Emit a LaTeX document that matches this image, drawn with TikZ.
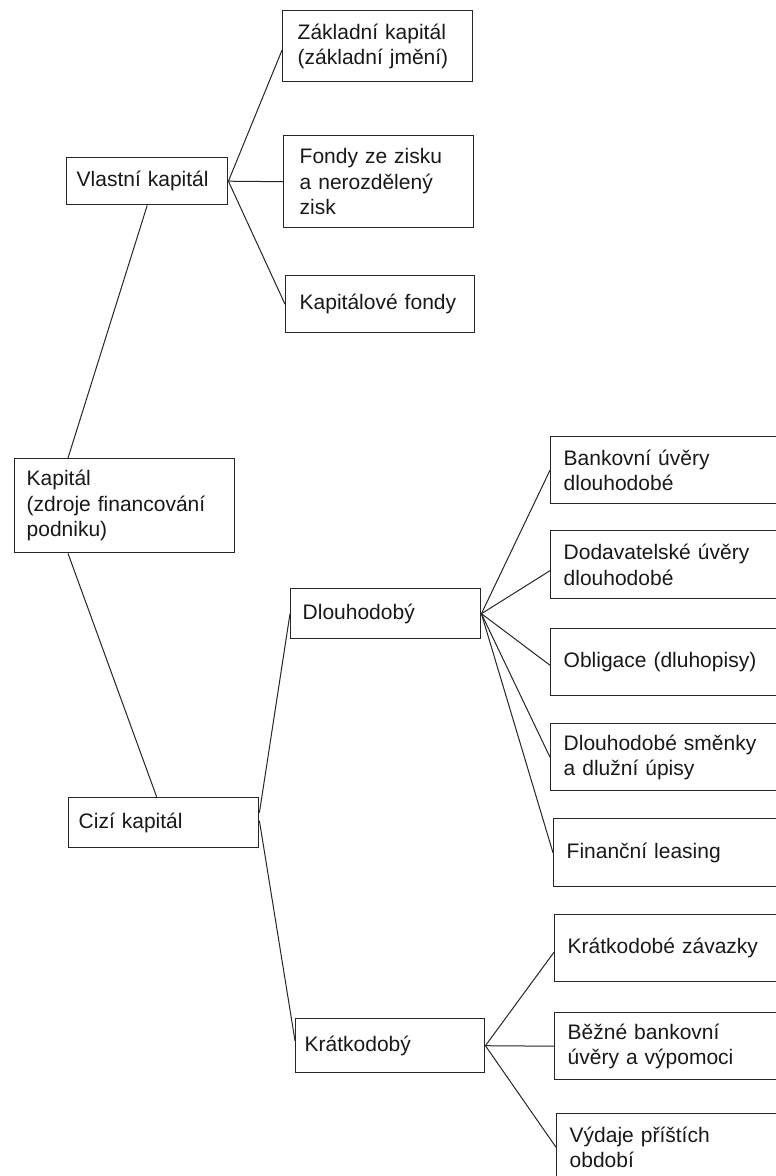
\documentclass[tikz,border=0pt]{standalone}
\usepackage{fontspec}
\setmainfont{Liberation Sans}
\begin{document}
\begin{tikzpicture}[x=1pt,y=-1pt,
  box/.style={draw=black!85, line width=1.4pt, anchor=north west, align=left,
    inner ysep=0pt, text=black!90, font=\fontsize{21}{25.5}\selectfont},
  link/.style={draw=black!85, line width=1pt}
]
\useasboundingbox (0,0) rectangle (776,1176);
\clip (0,0) rectangle (776,1176);
\fill[white] (0,0) rectangle (776,1176);

% left column
\node[box, inner xsep=15pt, text width=160pt, minimum width=190pt, minimum height=71pt] (zakl) at (282,10) {Základní kapitál\\(základní jmění)};
\node[box, inner xsep=16pt, text width=158pt, minimum width=190pt, minimum height=92pt] (fondy) at (283,135) {Fondy ze zisku\\a nerozdělený\\zisk};
\node[box, inner xsep=14pt, text width=161pt, minimum width=189pt, minimum height=57pt] (kapfondy) at (285,275) {Kapitálové fondy};
\node[box, inner xsep=10pt, text width=141pt, minimum width=161pt, minimum height=47pt] (vlastni) at (66,157) {Vlastní kapitál};
\node[box, inner xsep=12pt, text width=196pt, minimum width=220pt, minimum height=94pt] (kapital) at (14,458) {Kapitál\\(zdroje financování\\podniku)};
\node[box, inner xsep=12pt, text width=166pt, minimum width=190pt, minimum height=50pt] (dlouh) at (290,588) {Dlouhodobý};
\node[box, inner xsep=10pt, text width=170pt, minimum width=190pt, minimum height=50pt] (cizi) at (68,797) {Cizí kapitál};
\node[box, inner xsep=9pt, text width=171pt, minimum width=189pt, minimum height=54pt] (kratk) at (295,1018) {Krátkodobý};

% right column
\tikzset{rbox/.style={box, inner xsep=13pt, text width=224pt, minimum width=250pt, minimum height=67pt}}
\node[rbox] (bank) at (550,436) {Bankovní úvěry\\dlouhodobé};
\node[rbox, minimum height=68pt] (dodav) at (550,530) {Dodavatelské úvěry\\dlouhodobé};
\node[rbox] (oblig) at (550,628) {Obligace (dluhopisy)};
\node[rbox] (smenky) at (550,723) {Dlouhodobé směnky\\a dlužní úpisy};
\node[rbox, minimum height=68pt] (leasing) at (553,818) {Finanční leasing};
\node[rbox] (zavazky) at (554,914) {Krátkodobé závazky};
\node[rbox] (bezne) at (554,1012) {Běžné bankovní\\úvěry a výpomoci};
\node[rbox] (vydaje) at (556,1113) {Výdaje příštích\\období};

% connectors
\draw[link] ([xshift=54pt]kapital.north west) -- (vlastni.south);
\draw[link] ([xshift=54pt]kapital.south west) -- ([xshift=-7pt]cizi.north);
\draw[link] (vlastni.east) -- ([yshift=-4pt]zakl.west);
\draw[link] (vlastni.east) -- (fondy.west);
\draw[link] (vlastni.east) -- (kapfondy.west);
\draw[link] ([yshift=10pt]cizi.east) -- (dlouh.west);
\draw[link] ([yshift=2pt]cizi.east) -- ([yshift=5pt]kratk.west);
\draw[link] (dlouh.east) -- (bank.west);
\draw[link] (dlouh.east) -- ([yshift=-6pt]dodav.west);
\draw[link] (dlouh.east) -- ([yshift=-3pt]oblig.west);
\draw[link] (dlouh.east) -- (smenky.west);
\draw[link] (dlouh.east) -- (leasing.west);
\draw[link] (kratk.east) -- ([yshift=-4pt]zavazky.west);
\draw[link] (kratk.east) -- (bezne.west);
\draw[link] (kratk.east) -- (vydaje.west);
\end{tikzpicture}
\end{document}
